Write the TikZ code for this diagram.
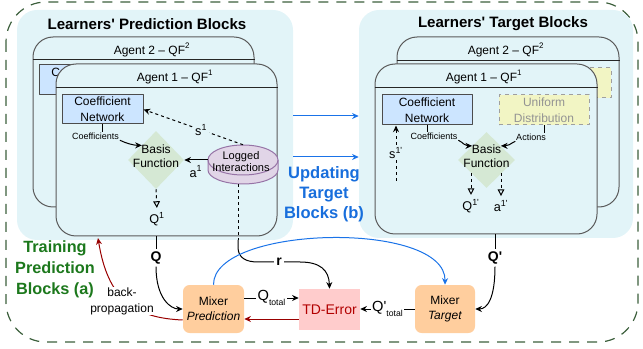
\documentclass[tikz,border=0pt]{standalone}
\usepackage{fontspec}
\setmainfont{Liberation Sans}
\usetikzlibrary{shapes.geometric,arrows.meta}

\begin{document}
\begin{tikzpicture}[x=0.75pt, y=-0.75pt, line join=round,
  boxsize/.style 2 args={minimum width=#1*0.75pt, minimum height=#2*0.75pt},
  bgblock/.style={fill=bgblue, rounded corners=15pt, inner sep=0pt},
  agentbox/.style={draw=agentline, fill=bgblue, rounded corners=15pt, line width=0.75pt, inner sep=0pt},
  header/.style={draw=black!85, line width=0.75pt},
  blocktitle/.style={font=\bfseries\fontsize{11.3}{13}\selectfont},
  agenttitle/.style={font=\fontsize{9}{11}\selectfont},
  netbox/.style={draw=black!70, fill=netblue, line width=0.75pt, inner sep=0pt, align=center, font=\fontsize{9}{12}\selectfont},
  unibox/.style={netbox, draw=gray!75, dashed, fill=uniyellow, text=gray!85},
  basisbox/.style={diamond, fill=basisgreen, inner sep=0pt},
  txt/.style={align=center, font=\fontsize{9}{10.5}\selectfont},
  tiny/.style={font=\fontsize{6.75}{8}\selectfont, inner sep=0.5pt},
  lbl/.style={font=\fontsize{9.5}{11}\selectfont, inner sep=1pt},
  mixer/.style={fill=mixorange, rounded corners=5pt, inner sep=0pt, align=center, font=\fontsize{9}{11.25}\selectfont},
  tdbox/.style={fill=tdpink, inner sep=0pt, text=tdred, font=\fontsize{10.5}{12}\selectfont},
  boldlbl/.style={font=\bfseries\fontsize{10.5}{12}\selectfont, fill=white, inner sep=1.5pt},
  sublbl/.style={font=\fontsize{11}{12}\selectfont, fill=white, inner sep=1pt},
  conn/.style={line width=0.75pt, -{Stealth[length=5pt,width=4.5pt]}},
  dconn/.style={conn, dash pattern=on 2.25pt off 2.25pt},
  opentip/.style={line width=0.75pt, dash pattern=on 2.25pt off 2.25pt, -{Triangle[open, length=5pt, width=5pt]}, shorten >=2pt},
  bluearrow/.style={conn, draw=arrowblue},
  redarrow/.style={conn, draw=darkred},
]
  % Define colors
  \definecolor{bgblue}{RGB}{226,244,248}
  \definecolor{agentline}{RGB}{90,90,90}
  \definecolor{netblue}{RGB}{204,229,255}
  \definecolor{uniyellow}{RGB}{242,245,196}
  \definecolor{basisgreen}{RGB}{213,232,212}
  \definecolor{purpfill}{RGB}{225,213,231}
  \definecolor{purpline}{RGB}{150,115,166}
  \definecolor{mixorange}{RGB}{255,206,158}
  \definecolor{tdpink}{RGB}{255,204,204}
  \definecolor{tdred}{RGB}{178,0,0}
  \definecolor{darkred}{RGB}{153,0,0}
  \definecolor{arrowblue}{RGB}{26,115,232}
  \definecolor{titleblue}{RGB}{24,110,220}
  \definecolor{traingreen}{RGB}{28,120,28}
  \definecolor{framegreen}{RGB}{60,95,60}

  \useasboundingbox (0,0) rectangle (643,349);

  % Outer frame
  \draw[draw=framegreen, line width=0.9pt, dash pattern=on 7.5pt off 6pt, rounded corners=30pt] (6,2) rectangle (638,342);

  % Block backgrounds
  \node[bgblock, boxsize={276}{230}] (predBg) at (155,125) {};
  \node[bgblock, boxsize={274}{228}] (targBg) at (496,124) {};
  \node[blocktitle] at (147,24) {Learners\textquotesingle\ Prediction Blocks};
  \node[blocktitle] at (503,24) {Learners\textquotesingle\ Target Blocks};

  % Prediction: agent 2 (behind)
  \node[agentbox, boxsize={221}{170}] (agP2) at (143.5,122) {};
  \draw[header] (agP2.west |- 0,60) -- (agP2.east |- 0,60);
  \node[agenttitle] at (152,50) {Agent 2 -- QF\textsuperscript{2}};
  \node[netbox, boxsize={81}{30}] (cnP2) at (79.5,80) {Coefficient\\Network};

  % Prediction: agent 1
  \node[agentbox, boxsize={221}{172}] (agP1) at (166.5,150) {};
  \draw[header] (agP1.west |- 0,88) -- (agP1.east |- 0,88);
  \node[agenttitle] at (175,77) {Agent 1 -- QF\textsuperscript{1}};
  \node[netbox, boxsize={81}{29}] (cnP1) at (102.5,109.5) {Coefficient\\Network};
  \node[basisbox, boxsize={56}{58}] (basisP) at (156,160) {};
  \node[txt] at (156,156) {Basis\\Function};
  \node[tiny] (coefP) at (95.5,136) {Coefficients};
  \node[lbl] (qP1) at (157,219) {Q\textsuperscript{1}};

  % Logged interactions (cylinder)
  \node[boxsize={70}{39}, inner sep=0pt] (logP) at (243,164.5) {};
  \filldraw[fill=purpfill, draw=purpline, line width=0.75pt]
    (208,160) -- (208,170) .. controls (208,177.7) and (223.7,184) .. (243,184)
    .. controls (262.3,184) and (278,177.7) .. (278,170) -- (278,160)
    .. controls (278,151.7) and (262.3,145) .. (243,145)
    .. controls (223.7,145) and (208,151.7) .. cycle;
  \draw[draw=purpline, line width=0.75pt] (208,160) .. controls (208,168.3) and (223.7,175) .. (243,175)
    .. controls (262.3,175) and (278,168.3) .. (278,160);
  \node[txt, font=\fontsize{8.3}{9}\selectfont] at (241,162) {Logged\\Interactions};

  % Prediction connectors
  \draw[line width=0.75pt] (cnP1.south) -- (cnP1.south |- coefP.north);
  \draw[conn] (coefP.south east) .. controls +(6,3) and +(-8,0) .. (basisP.north west);
  \draw[dconn] (logP.north) -- node[lbl, fill=bgblue, pos=0.42] {s\textsuperscript{1}} (cnP1.east);
  \draw[conn] (logP.west |- basisP.east) -- node[lbl, below=3pt] {a\textsuperscript{1}} (basisP.east);
  \draw[opentip] (basisP.south) -- (qP1.north);
  \coordinate (rTop) at (238,240);
  \draw[line width=0.75pt, dash pattern=on 2.25pt off 2.25pt] (logP.south -| rTop) -- (rTop);

  % Target: agent 2 (behind)
  \node[agentbox, boxsize={222}{170}] (agT2) at (508,122) {};
  \draw[header] (agT2.west |- 0,61) -- (agT2.east |- 0,61);
  \node[agenttitle] at (506,50) {Agent 2 -- QF\textsuperscript{2}};
  \node[unibox, boxsize={89}{30}] (uniT2) at (566.5,83) {Uniform\\Distribution};

  % Target: agent 1
  \node[agentbox, boxsize={222}{170}] (agT1) at (486,149) {};
  \draw[header] (agT1.west |- 0,88) -- (agT1.east |- 0,88);
  \node[agenttitle] at (484,77) {Agent 1 -- QF\textsuperscript{1}};
  \node[netbox, boxsize={90}{30}] (cnT1) at (427,110) {Coefficient\\Network};
  \node[unibox, boxsize={90}{30}] (uniT1) at (544,110) {Uniform\\Distribution};
  \node[basisbox, boxsize={57}{56}] (basisT) at (486.5,160) {};
  \node[txt] at (486.5,156) {Basis\\Function};
  \node[tiny] (coefT) at (434,136) {Coefficients};
  \node[tiny] (actT) at (531,137) {Actions};
  \node[lbl] (qT1) at (471,206) {Q\textsuperscript{1\textquotesingle}};
  \node[lbl] (aT1) at (501,206) {a\textsuperscript{1\textquotesingle}};
  \coordinate (sT1) at (396,181);

  % Target connectors
  \draw[line width=0.75pt] (cnT1.south) -- (cnT1.south |- coefT.north);
  \draw[line width=0.75pt] (uniT1.south) -- (uniT1.south |- actT.north);
  \draw[conn] (coefT.south east) .. controls +(6,3) and +(-8,0) .. (basisT.north west);
  \draw[conn] (actT.south west) .. controls +(-6,3) and +(8,0) .. (basisT.north east);
  \draw[dconn] (sT1) -- node[lbl, fill=bgblue] {s\textsuperscript{1\textquotesingle}} (sT1 |- cnT1.south);
  \draw[opentip] (qT1 |- 0,173) -- (qT1.north);
  \draw[opentip] (aT1 |- 0,173) -- (aT1.north);

  % Updating arrows
  \foreach \yy in {116,157}
    \draw[bluearrow] (predBg.east |- 0,\yy) -- (targBg.west |- 0,\yy);
  \node[align=center, text=titleblue, font=\bfseries\fontsize{12.4}{15}\selectfont] at (324,194) {Updating\\Target\\Blocks (b)};

  % Mixers and TD error
  \node[mixer, boxsize={61}{48}] (mixP) at (213.5,309) {Mixer\\\textit{Prediction}};
  \node[tdbox, boxsize={61}{41}] (tdE) at (329.5,309.5) {TD-Error};
  \node[mixer, boxsize={60}{48}] (mixT) at (445,309) {Mixer\\\textit{Target}};

  \node[boldlbl] (qlP) at (156,258) {Q};
  \node[boldlbl] (qlT) at (495,258) {Q\textquotesingle};
  \draw[line width=0.75pt] (qlP |- agP1.south) -- (qlP.north);
  \draw[conn] (qlP.south) .. controls +(0,32) and +(-12,0) .. (mixP.west);
  \draw[line width=0.75pt] (qlT |- agT1.south) -- (qlT.north);
  \draw[conn] (qlT.south) .. controls +(0,32) and +(12,0) .. (mixT.east);

  \draw[conn] (rTop) -- (238,247) .. controls (238,258) and (246,262) .. (258,262)
    -- node[boldlbl] {r} (300,262) .. controls (320,262) and (329,270) .. (tdE.north);

  \draw[bluearrow] (mixP.north) .. controls (213,225) and (446,220) .. (mixT.north);

  \draw[conn] (mixP.east |- 0,298) -- node[sublbl] {Q\raisebox{-0.3em}{\fontsize{6.5}{7}\selectfont total}} (tdE.west |- 0,298);
  \draw[conn] (mixT.west) -- node[sublbl] {Q\textquotesingle\raisebox{-0.3em}{\fontsize{6.5}{7}\selectfont total}} (tdE.east |- mixT.west);
  \draw[redarrow] (tdE.west |- 0,319) -- (mixP.east |- 0,319);

  % Backpropagation
  \coordinate (bpEnd) at (98,238);
  \draw[redarrow] (mixP.west |- 0,320) .. controls (135,318) and (108,300) .. (bpEnd);
  \node[fill=white, inner sep=0.5pt, align=center, font=\fontsize{9}{12}\selectfont] (bpLab) at (122,301) {back-\\propagation};
  \node[align=center, text=traingreen, font=\bfseries\fontsize{12.2}{15.75}\selectfont] at (55,269) {Training\\Prediction\\Blocks (a)};
\end{tikzpicture}
\end{document}
